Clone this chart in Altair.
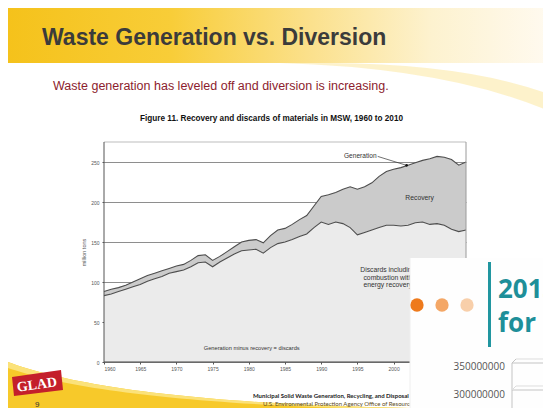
import altair as alt
import pandas as pd

# ---------------- data ----------------
years = list(range(1960, 2011))
generation = [88, 91, 93, 96, 100, 104, 108, 111, 114, 117,
              120, 122, 127, 133, 134, 127, 132, 138, 144, 150,
              152, 153, 149, 158, 165, 167, 172, 178, 183, 195,
              207, 209, 212, 216, 219, 216, 219, 224, 232, 238,
              241, 243, 246, 249, 252, 254, 257, 256, 253, 246, 250]
discards = [83, 85, 88, 91, 94, 97, 101, 104, 107, 111,
            113, 115, 119, 124, 125, 119, 125, 130, 135, 139,
            140, 141, 136, 143, 148, 150, 153, 157, 160, 168,
            175, 172, 175, 173, 168, 159, 162, 165, 168, 171,
            171, 170, 171, 174, 175, 172, 173, 171, 166, 163, 165]

x_ticks = list(range(1960, 2001, 5))
y_ticks = [0, 50, 100, 150, 200, 250]

slide_title = "Waste Generation vs. Diversion"
slide_subtitle = "Waste generation has leveled off and diversion is increasing."
figure_title = "Figure 11. Recovery and discards of materials in MSW, 1960 to 2010"
y_title = "million tons"
label_generation = "Generation"
label_recovery = "Recovery"
label_discards = "Discards including\ncombustion with\nenergy recovery"
label_bottom = "Generation minus recovery = discards"
citation_1 = "Municipal Solid Waste Generation, Recycling, and Disposal in the United States"
citation_2 = "U.S. Environmental Protection Agency Office of Resource Conservation and Recovery"
page_number = "9"
logo_text = "GLAD"
inset_title_1 = "2013"
inset_title_2 = "for R"
inset_ticks = ["350000000", "300000000"]

# ---------------- layout helpers ----------------
OX, OY = 104, 142          # plot-area origin in page pixels
W, H = 362, 220
one = pd.DataFrame({"k": [0]})


def px(v):
    return v - OX


def py(v):
    return v - OY


def text(t, X, Y, size, align="left", color="#333", weight="normal",
         font="Liberation Sans", angle=0, **kw):
    return alt.Chart(pd.DataFrame({"t": [t]})).mark_text(
        fontSize=size, align=align, baseline="alphabetic", color=color,
        fontWeight=weight, font=font, angle=angle, **kw
    ).encode(x=alt.value(px(X)), y=alt.value(py(Y)), text="t:N")


def rect(X1, X2, Y1, Y2, fill, **kw):
    return alt.Chart(one).mark_rect(fill=fill, **kw).encode(
        x=alt.value(px(X1)), x2=alt.value(px(X2)),
        y=alt.value(py(Y1)), y2=alt.value(py(Y2)))


def shape(cmds, fill, opacity=1.0):
    parts = []
    for c in cmds:
        op, nums = c[0], c[1:]
        conv = []
        for i in range(0, len(nums), 2):
            conv.append(f"{nums[i] - OX:.1f} {nums[i + 1] - OY:.1f}")
        parts.append(op + " " + " ".join(conv))
    path = " ".join(parts)
    return alt.Chart(one).mark_point(
        shape=path, size=4, filled=True, fill=fill, strokeWidth=0,
        opacity=opacity
    ).encode(x=alt.value(0), y=alt.value(0))


def dot(X, Y, r, fill):
    return alt.Chart(one).mark_point(
        shape="circle", size=3.1416 * r * r, filled=True, fill=fill,
        strokeWidth=0, opacity=1
    ).encode(x=alt.value(px(X)), y=alt.value(py(Y)))


def hline(X1, X2, Y, color, w=1.0):
    return alt.Chart(one).mark_rule(color=color, strokeWidth=w).encode(
        x=alt.value(px(X1)), x2=alt.value(px(X2)), y=alt.value(py(Y)))


def seg(X1, Y1, X2, Y2, color, w=1.0):
    return alt.Chart(one).mark_rule(color=color, strokeWidth=w).encode(
        x=alt.value(px(X1)), x2=alt.value(px(X2)),
        y=alt.value(py(Y1)), y2=alt.value(py(Y2)))


# ---------------- slide decorations (background) ----------------
banner = alt.Chart(one).mark_rect(
    fill=alt.LinearGradient(
        gradient="linear", x1=0, x2=1, y1=0, y2=0,
        stops=[alt.GradientStop(offset=0, color="#f5c21b"),
               alt.GradientStop(offset=0.3, color="#f8cd38"),
               alt.GradientStop(offset=0.55, color="#fbe08a"),
               alt.GradientStop(offset=0.78, color="#fdf2cf"),
               alt.GradientStop(offset=1, color="#fffaf0")])
).encode(x=alt.value(px(8)), x2=alt.value(px(551)),
         y=alt.value(py(6)), y2=alt.value(py(63)))

banner_swoosh = shape([("M", 280, 63), ("Q", 450, 68, 551, 112),
                       ("L", 551, 95), ("Q", 470, 64, 330, 63), ("Z",)],
                      "#fbeaa8", 0.6)

bottom_swoosh = shape([("M", 8, 362), ("C", 70, 385, 190, 404, 410, 408),
                       ("L", 410, 414), ("L", 8, 414), ("Z",)], "#f7c92a")
bottom_swoosh_light = shape([("M", 8, 362), ("C", 70, 385, 190, 404, 410, 408),
                             ("L", 410, 409.5), ("C", 190, 406, 70, 389, 8, 368), ("Z",)],
                            "#fbe27a")

logo_box = shape([("M", 12, 377), ("L", 61, 370), ("L", 63, 390),
                  ("L", 14, 396), ("Z",)], "#c41f2b")
logo = text(logo_text, 37.5, 389, 14, align="center", color="white",
            weight="bold", font="Liberation Serif", angle=352)

# ---------------- chart ----------------
df = pd.DataFrame({"year": years, "generation": generation, "discards": discards})

x_axis = alt.Axis(values=x_ticks, format="d", title=None, labelFontSize=5,
                  labelColor="#555", labelFont="Liberation Sans", tickSize=2,
                  tickColor="#555", domain=False, grid=False, labelPadding=2,
                  labelOverlap=False, zindex=0)
y_axis = alt.Axis(values=y_ticks, title=y_title, titleFontSize=5.5,
                  titleFontWeight="normal", titleColor="#555",
                  titleFont="Liberation Sans", titleAngle=270,
                  titleX=-21, titleY=110, titleAlign="center",
                  titleBaseline="middle",
                  labelFontSize=5, labelColor="#555",
                  labelFont="Liberation Sans", tickSize=2, tickColor="#555",
                  labelPadding=3, domain=False, grid=True, labelOverlap=False,
                  gridColor="#8e8e8e", gridWidth=1, zindex=0)

xs = alt.X("year:Q", scale=alt.Scale(domain=[1960, 2010], nice=False, zero=False),
           axis=x_axis)


def yenc(field):
    return alt.Y(field, scale=alt.Scale(domain=[0, 275], nice=False), axis=y_axis)


recovery_band = alt.Chart(df).mark_area(color="#cbcbcb").encode(
    x=xs, y=yenc("generation:Q"), y2="discards:Q")
discard_area = alt.Chart(df).mark_area(color="#ebebeb").encode(
    x=xs, y=yenc("discards:Q"))
gen_line = alt.Chart(df).mark_line(color="#4d4d4d", strokeWidth=1.1).encode(
    x=xs, y=yenc("generation:Q"))
dis_line = alt.Chart(df).mark_line(color="#4d4d4d", strokeWidth=1.1).encode(
    x=xs, y=yenc("discards:Q"))


def frame_rule(x1, x2, y1, y2, color, w):
    return alt.Chart(one).mark_rule(color=color, strokeWidth=w).encode(
        x=alt.datum(x1), x2=alt.datum(x2), y=alt.datum(y1), y2=alt.datum(y2))


frame = [
    frame_rule(1960, 2010, 275, 275, "#bdbdbd", 1),
    frame_rule(2010, 2010, 0, 275, "#9a9a9a", 1),
    frame_rule(1960, 1960, 0, 275, "#555555", 1),
    frame_rule(1960, 2010, 0, 0, "#444444", 1),
]


def note(t, yr, val, size, align="center", **kw):
    return alt.Chart(pd.DataFrame({"t": [t]})).mark_text(
        fontSize=size, align=align, baseline="alphabetic", color="#333",
        font="Liberation Sans", **kw
    ).encode(x=alt.datum(yr), y=alt.datum(val), text="t:N")


gen_note = note(label_generation, 1995.4, 255, 6.6)
rec_note = note(label_recovery, 2003.6, 202.5, 6.8)
dis_note = note(label_discards, 1999.2, 112.5, 6.8, lineBreak="\n", lineHeight=7.6)
bottom_note = note(label_bottom, 1980.4, 15, 5.7)
leader = alt.Chart(one).mark_rule(color="#333", strokeWidth=0.7).encode(
    x=alt.datum(1997.8), x2=alt.datum(2001.8), y=alt.datum(257), y2=alt.datum(245.8))
leader_dot = alt.Chart(one).mark_point(filled=True, size=7, color="#111", opacity=1).encode(
    x=alt.datum(2001.8), y=alt.datum(245.8))

# ---------------- texts ----------------
t_title = text(slide_title, 42, 45, 23, color="#3b3b3b", weight="bold")
t_sub = text(slide_subtitle, 53, 90, 12.5, color="#8c1d2e")
t_fig = text(figure_title, 271.5, 121, 8.2, align="center", color="#111", weight="bold")
t_cit1 = text(citation_1, 253, 398, 6, color="#222", weight="bold", font="Lato")
t_cit2 = text(citation_2, 263, 406, 6, color="#5a4a1e", font="Lato")
t_page = text(page_number, 35, 407, 8, color="#333")

# ---------------- inset (overlapping slide, bottom right) ----------------
inset_panel = rect(410, 551, 258, 420, "#fefefe")
inset_edge = seg(410, 258, 410, 420, "#eeeeee", 1)
inset_dots = [dot(417, 305, 7.5, "#ee7a1c"), dot(442, 305, 7.5, "#f4a766"),
              dot(467, 305, 7.5, "#f8cfaa")]
inset_bar = rect(488, 491, 262, 347, "#2196a0")
inset_t1 = text(inset_title_1, 498, 298, 26, color="#1e8f99", weight="bold", font="Open Sans")
inset_t2 = text(inset_title_2, 498, 332, 26, color="#1e8f99", weight="bold", font="Open Sans")
inset_lab1 = text(inset_ticks[0], 505, 370, 10, align="right", color="#555", font="Open Sans")
inset_lab2 = text(inset_ticks[1], 505, 398, 10, align="right", color="#555", font="Open Sans")
inset_grid = [hline(512, 551, 363, "#c4c4c4"), hline(512, 551, 390, "#c4c4c4"),
              seg(512, 363, 512, 412, "#c4c4c4"), seg(512, 363, 516, 359, "#c4c4c4"),
              hline(516, 551, 359, "#dddddd"), seg(512, 390, 516, 386, "#dddddd"),
              hline(516, 551, 386, "#dddddd")]

layers = ([banner, banner_swoosh, bottom_swoosh, bottom_swoosh_light, logo_box, logo,
           recovery_band, discard_area, gen_line, dis_line] + frame +
          [gen_note, rec_note, dis_note, bottom_note, leader, leader_dot,
           t_title, t_sub, t_fig, t_cit1, t_cit2, t_page,
           inset_panel, inset_edge] + inset_dots +
          [inset_bar, inset_t1, inset_t2, inset_lab1, inset_lab2] + inset_grid)

chart = alt.layer(*layers).properties(
    width=W, height=H,
    padding={"left": 96, "top": 134, "right": 77, "bottom": 46},
    autosize=alt.AutoSizeParams(type="none"),
    background="white",
).configure_view(stroke=None)

chart.save("out.html", embed_options={"renderer": "svg", "actions": False})
